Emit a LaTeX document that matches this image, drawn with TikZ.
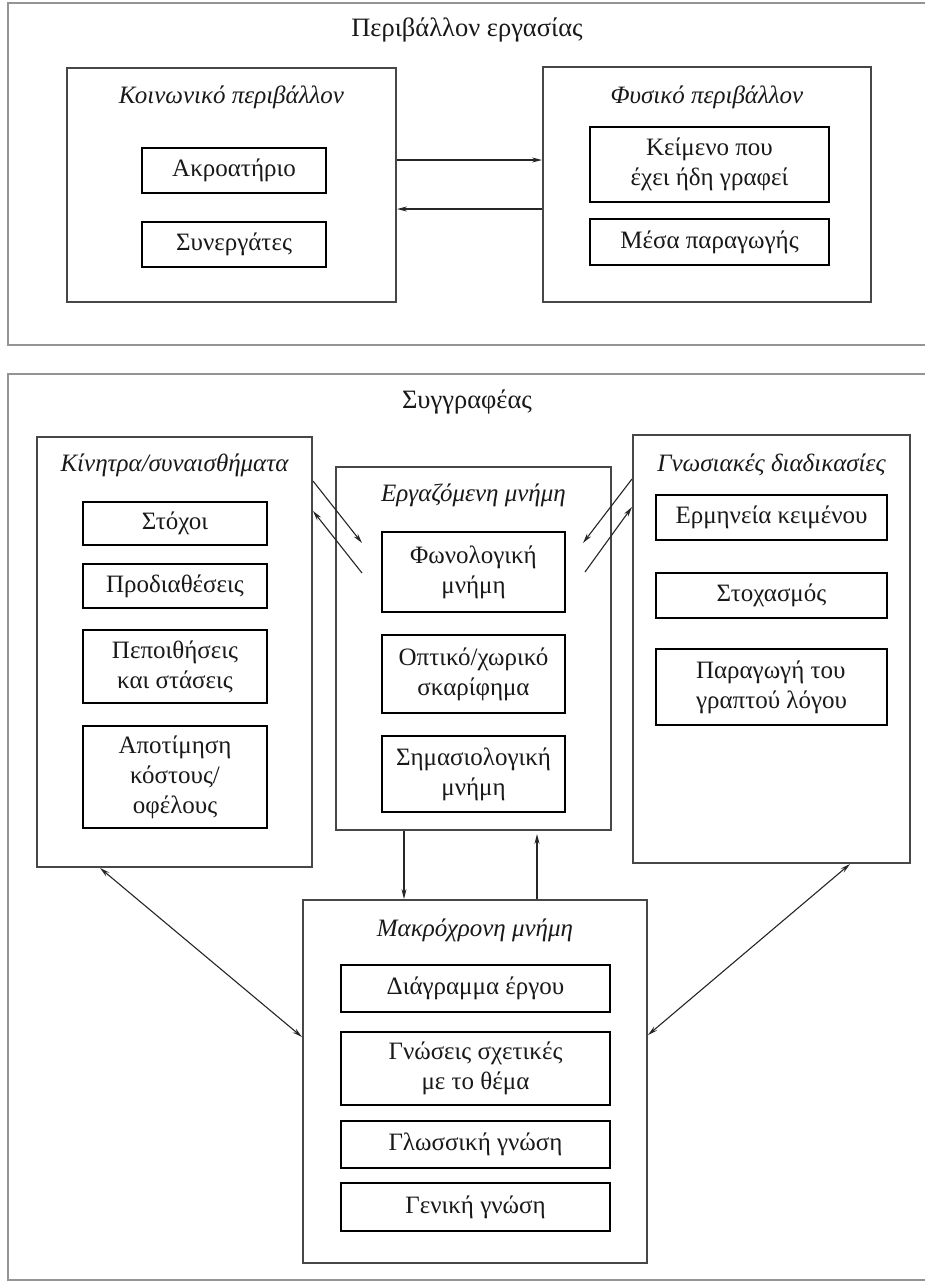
\documentclass[tikz,border=0pt]{standalone}
\usepackage{fontspec}
\setmainfont{Liberation Serif}
\usetikzlibrary{arrows.meta,calc}
\begin{document}
\begin{tikzpicture}[x=1pt,y=-1pt,
  frame/.style={draw=black!42, line width=1.4pt},
  cont/.style={draw=black!72, line width=2pt, inner sep=0pt},
  itembox/.style={draw=black, line width=1.4pt, inner sep=0pt, align=center,
    text=black!90, font=\fontsize{25}{30}\selectfont},
  ctitle/.style={inner sep=0pt, text=black!90, font=\itshape\fontsize{25}{30}\selectfont},
  ftitle/.style={inner sep=0pt, text=black!90, font=\fontsize{26.5}{30}\selectfont},
  arr/.style={-{Stealth[length=10pt,width=5pt]}, line width=1.1pt, draw=black!85},
  darr/.style={{Stealth[length=10pt,width=5pt]}-{Stealth[length=10pt,width=5pt]}, line width=1.1pt, draw=black!85}
]
\useasboundingbox (0,0) rectangle (925,1286);
\fill[white] (0,0) rectangle (925,1286);

% ---------- outer frames ----------
\draw[frame] (926,3) -- (8,3) -- (8,345) -- (926,345);
\draw[frame] (926,374) -- (8,374) -- (8,1280) -- (926,1280);
\node[ftitle] (envtitle) at (467,30) {Περιβάλλον εργασίας};
\node[ftitle] (wrtitle) at (467,402) {Συγγραφέας};

% ---------- work environment ----------
\node[cont, minimum width=329, minimum height=234] (soc) at (231.5,185) {};
\node[ctitle] (soctitle) at (231.5,97) {Κοινωνικό περιβάλλον};
\node[itembox, minimum width=184, minimum height=45] (aud) at (234,170.5) {Ακροατήριο};
\node[itembox, minimum width=184, minimum height=45] (coll) at (234,244.5) {Συνεργάτες};

\node[cont, minimum width=328, minimum height=235] (phys) at (707,184.5) {};
\node[ctitle] (phystitle) at (707,97) {Φυσικό περιβάλλον};
\node[itembox, minimum width=239, minimum height=75] (text) at (709.5,164.5) {Κείμενο που\\έχει ήδη γραφεί};
\node[itembox, minimum width=239, minimum height=46] (media) at (709.5,242) {Μέσα παραγωγής};

\draw[arr] ([yshift=25pt]soc.east) -- ([yshift=24.5pt]phys.west);
\draw[arr] ([yshift=-24.5pt]phys.west) -- ([yshift=-24pt]soc.east);

% ---------- writer ----------
\node[cont, minimum width=275, minimum height=430] (mot) at (174.5,652) {};
\node[ctitle] (mottitle) at (174.5,465) {Κίνητρα/συναισθήματα};
\node[itembox, minimum width=184, minimum height=43] (goals) at (175,523.5) {Στόχοι};
\node[itembox, minimum width=184, minimum height=44] (pred) at (175,586) {Προδιαθέσεις};
\node[itembox, minimum width=184, minimum height=73] (beliefs) at (175,666.5) {Πεποιθήσεις\\και στάσεις};
\node[itembox, minimum width=184, minimum height=102] (cost) at (175,777) {Αποτίμηση\\κόστους/\\οφέλους};

\node[cont, minimum width=275, minimum height=363] (wm) at (473.5,648.5) {};
\node[ctitle] (wmtitle) at (473.5,495) {Εργαζόμενη μνήμη};
\node[itembox, minimum width=183, minimum height=80] (phon) at (473.5,572) {Φωνολογική\\μνήμη};
\node[itembox, minimum width=183, minimum height=78] (vis) at (473.5,674) {Οπτικό/χωρικό\\σκαρίφημα};
\node[itembox, minimum width=183, minimum height=76] (sem) at (473.5,774) {Σημασιολογική\\μνήμη};

\node[cont, minimum width=277, minimum height=428] (cog) at (771.5,649) {};
\node[ctitle] (cogtitle) at (771.5,465) {Γνωσιακές διαδικασίες};
\node[itembox, minimum width=231, minimum height=45] (interp) at (771.5,517.5) {Ερμηνεία κειμένου};
\node[itembox, minimum width=231, minimum height=45] (refl) at (771.5,595.5) {Στοχασμός};
\node[itembox, minimum width=231, minimum height=76, align=left] (prod) at (771.5,687) {Παραγωγή του\\γραπτού λόγου};

\node[cont, minimum width=344, minimum height=363] (ltm) at (475,1081.5) {};
\node[ctitle] (ltmtitle) at (475,930) {Μακρόχρονη μνήμη};
\node[itembox, minimum width=269, minimum height=47] (task) at (475.5,988.5) {Διάγραμμα έργου};
\node[itembox, minimum width=269, minimum height=73] (topic) at (475.5,1068.5) {Γνώσεις σχετικές\\με το θέμα};
\node[itembox, minimum width=269, minimum height=47] (ling) at (475.5,1144.5) {Γλωσσική γνώση};
\node[itembox, minimum width=269, minimum height=48] (gen) at (475.5,1207) {Γενική γνώση};

% ---------- connectors ----------
\coordinate (wmL1) at (362,543);
\coordinate (wmL2) at (362,573);
\coordinate (wmR1) at (583,543);
\coordinate (wmR2) at (585,572);
\draw[arr] ([yshift=-45pt]mot.north east) -- (wmL1);
\draw[arr] (wmL2) -- ([yshift=-75pt]mot.north east);
\draw[arr] ([yshift=-45pt]cog.north west) -- (wmR1);
\draw[arr] (wmR2) -- ([yshift=-73pt]cog.north west);

\coordinate (xdown) at (404,0);
\coordinate (xup) at (537,0);
\draw[arr] (wm.south -| xdown) -- (ltm.north -| xdown);
\draw[arr] (ltm.north -| xup) -- ([yshift=-3pt]wm.south -| xup);

\coordinate (xl) at (100,0);
\coordinate (yl) at (0,1037);
\coordinate (xr) at (850,0);
\coordinate (yr) at (0,1035);
\draw[darr] (mot.south -| xl) -- (ltm.west |- yl);
\draw[darr] (cog.south -| xr) -- (ltm.east |- yr);
\end{tikzpicture}
\end{document}
